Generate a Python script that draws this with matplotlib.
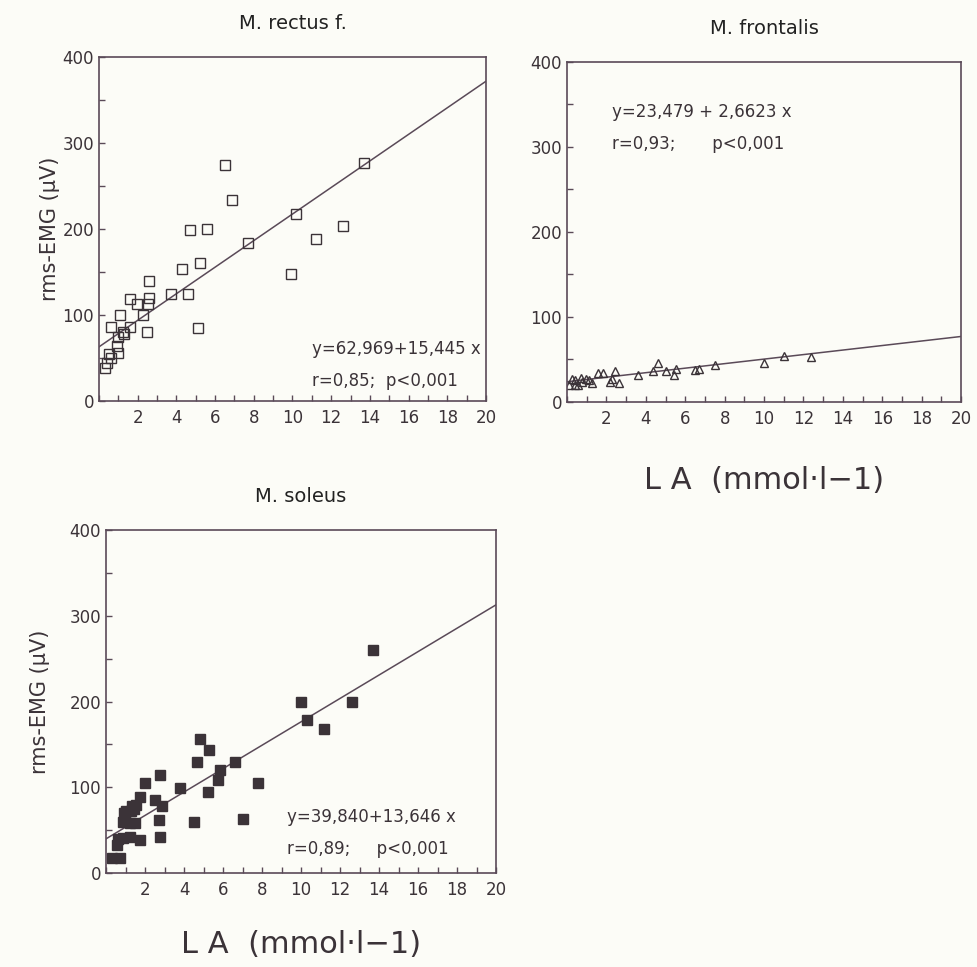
import numpy as np
import matplotlib.pyplot as plt
from matplotlib.ticker import MultipleLocator

plt.rcParams['font.family'] = ['DejaVu Sans']

# M. rectus f.
rectus_x = [6.5, 13.7, 6.9, 10.2, 4.7, 5.6, 12.6, 7.7, 11.2, 9.9, 4.3, 5.2, 2.6, 3.7, 4.6,
            1.6, 1.95, 2.6, 2.55, 1.1, 2.3, 5.1, 2.5, 0.6, 1.6, 1.25, 1.0, 0.95, 1.0, 0.5,
            0.6, 0.4, 0.3, 1.3]
rectus_y = [274, 277, 234, 218, 199, 200, 203, 184, 188, 148, 154, 160, 139, 124, 124,
            119, 113, 120, 113, 100, 100, 85, 80, 86, 86, 80, 74, 64, 56, 55,
            50, 44, 38, 78]

# M. frontalis
front_x = [10.0, 11.0, 12.4, 7.5, 6.7, 6.5, 5.55, 5.45, 5.0, 4.6, 4.35, 3.6, 2.45, 2.2,
           2.65, 2.3, 1.8, 1.55, 1.25, 0.95, 0.75, 0.4, 0.25, 0.1, 0.4, 0.55, 0.7, 1.1]
front_y = [46, 54, 52, 43, 38, 37, 38, 31, 36, 45, 36, 31, 36, 23, 22, 27, 34, 34, 22,
           27, 23, 26, 27, 20, 20, 20, 28, 25]

# M. soleus
soleus_x = [13.7, 10.0, 12.6, 10.3, 11.2, 4.8, 5.3, 4.65, 6.6, 5.85, 5.75, 7.8, 5.25, 3.8,
            2.75, 2.0, 1.75, 2.5, 2.85, 2.7, 2.75, 4.5, 7.05, 1.55, 1.35, 1.05, 0.9, 0.95,
            0.85, 1.25, 1.5, 1.75, 1.25, 0.85, 0.6, 0.55, 0.3, 0.7, 1.3, 1.45]
soleus_y = [260, 200, 199, 179, 168, 156, 144, 130, 130, 120, 108, 105, 94, 99,
            114, 105, 89, 85, 78, 62, 42, 60, 63, 79, 78, 72, 70, 66,
            60, 58, 58, 38, 42, 41, 40, 33, 18, 18, 72, 75]

# regression coefficients (intercept, slope)
rectus_fit = (62.969, 15.445)
front_fit = (23.479, 2.6623)
soleus_fit = (39.840, 13.646)

ink = '#3b3338'
frame = '#5a4a58'
bg = '#fcfcf7'

fig = plt.figure(figsize=(9.78, 9.67), dpi=100, facecolor=bg)


def panel(rect, xs, ys, fit, marker, mfc, ms, title, eq, stat, eqpos, ylabpad=None, xlabpad=None):
    ax = fig.add_axes(rect, facecolor=bg)
    ax.set_xlim(0, 20)
    ax.set_ylim(0, 400)
    lx = np.array([0, 20])
    ax.plot(lx, fit[0] + fit[1] * lx, color=frame, lw=1.1)
    ax.plot(xs, ys, linestyle='none', marker=marker, mfc=mfc, mec=ink, ms=ms, mew=1.0)
    ax.xaxis.set_major_locator(MultipleLocator(2))
    ax.xaxis.set_minor_locator(MultipleLocator(1))
    ax.yaxis.set_major_locator(MultipleLocator(100))
    ax.yaxis.set_minor_locator(MultipleLocator(50))
    ax.tick_params(which='both', direction='in', color=frame, labelcolor=ink,
                   labelsize=12, length=4, width=1)
    ax.tick_params(axis='x', pad=6)
    ax.set_xticklabels(['' if t == 0 else '%d' % t for t in ax.get_xticks()])
    for s in ax.spines.values():
        s.set_color(frame)
        s.set_linewidth(1.2)
    ax.set_title(title, fontsize=14, color='#222222', pad=20, fontweight='medium')
    ax.text(eqpos[0], eqpos[1], eq, fontsize=12, color=ink)
    ax.text(eqpos[0], eqpos[1] - 38, stat, fontsize=12, color=ink)
    if ylabpad is not None:
        ax.set_ylabel('rms-EMG (μV)', fontsize=15, color=ink, labelpad=ylabpad)
    if xlabpad is not None:
        ax.set_xlabel('L A  (mmol·l−1)', fontsize=22, color=ink, labelpad=xlabpad)
    return ax


panel([0.1012, 0.5853, 0.3957, 0.3557], rectus_x, rectus_y, rectus_fit, 's', 'none', 7.5,
      'M. rectus f.', 'y=62,969+15,445 x', 'r=0,85;  p<0,001', (11.0, 55), ylabpad=2)
panel([0.5798, 0.5846, 0.4029, 0.3516], front_x, front_y, front_fit, '^', 'none', 6,
      'M. frontalis', 'y=23,479 + 2,6623 x', 'r=0,93;       p<0,001', (2.3, 335), xlabpad=27)
panel([0.1084, 0.0972, 0.3988, 0.3547], soleus_x, soleus_y, soleus_fit, 's', ink, 6.5,
      'M. soleus', 'y=39,840+13,646 x', 'r=0,89;     p<0,001', (9.3, 60), ylabpad=14, xlabpad=22)

fig.savefig('out.png', dpi=100, facecolor=bg)
